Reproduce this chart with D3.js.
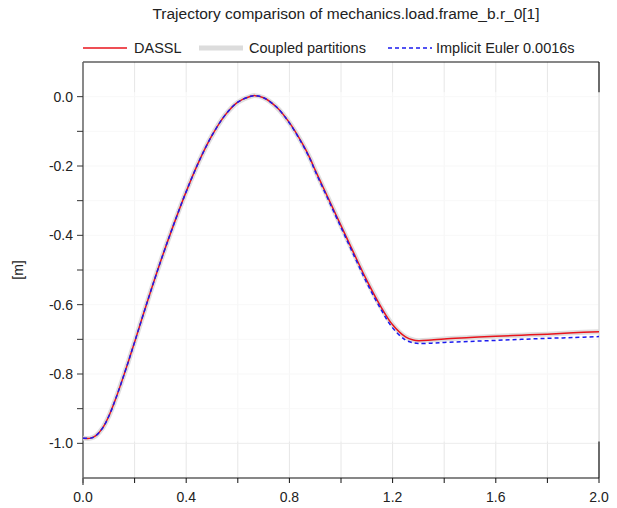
<!DOCTYPE html>
<html>
<head>
<meta charset="utf-8">
<script src="https://cdn.jsdelivr.net/npm/d3@7"></script>
<style>
  body { margin: 0; background: #fff; }
  svg text { font-family: "Liberation Sans", Arial, sans-serif; fill: #222; }
</style>
</head>
<body>
<div id="chart"></div>
<script>
// time axis [s]
var time = [0.00, 0.03, 0.05, 0.075, 0.10, 0.125, 0.15, 0.175, 0.20, 0.25, 0.30, 0.35, 0.40, 0.45,
            0.50, 0.55, 0.60, 0.65, 0.667, 0.70, 0.75, 0.80, 0.85, 0.88, 0.90, 0.95, 1.00, 1.05,
            1.10, 1.15, 1.20, 1.25, 1.28, 1.30, 1.35, 1.40, 1.50, 1.60, 1.70, 1.80, 1.90, 2.00];

// DASSL reference
var dassl = [-0.985, -0.985, -0.978, -0.957, -0.922, -0.875, -0.822, -0.766, -0.708, -0.59, -0.477, -0.372, -0.274, -0.186,
             -0.112, -0.054, -0.016, 0.001, 0.003, -0.003, -0.03, -0.075, -0.135, -0.178, -0.212, -0.292, -0.372, -0.452,
             -0.53, -0.60, -0.658, -0.693, -0.702, -0.704, -0.702, -0.699, -0.695, -0.691, -0.688, -0.685, -0.681, -0.678];

// coupled partitions (lies on top of DASSL)
var coupled = [-0.985, -0.985, -0.978, -0.957, -0.922, -0.875, -0.822, -0.766, -0.708, -0.59, -0.477, -0.372, -0.274, -0.186,
               -0.112, -0.054, -0.016, 0.001, 0.003, -0.003, -0.03, -0.075, -0.135, -0.178, -0.212, -0.292, -0.372, -0.452,
               -0.53, -0.60, -0.658, -0.693, -0.702, -0.704, -0.702, -0.699, -0.695, -0.691, -0.688, -0.685, -0.681, -0.678];

// implicit euler 0.0016s
var euler = [-0.985, -0.985, -0.978, -0.957, -0.922, -0.875, -0.822, -0.766, -0.708, -0.59, -0.477, -0.372, -0.274, -0.186,
             -0.112, -0.054, -0.016, 0.001, 0.003, -0.003, -0.03, -0.076, -0.137, -0.180, -0.215, -0.296, -0.377, -0.458,
             -0.537, -0.607, -0.667, -0.702, -0.710, -0.712, -0.711, -0.709, -0.706, -0.703, -0.700, -0.697, -0.695, -0.692];

var xTicks = [0, 0.2, 0.4, 0.6, 0.8, 1.0, 1.2, 1.4, 1.6, 1.8, 2.0];
var xLabels = [0, 0.4, 0.8, 1.2, 1.6, 2.0];
var yTicks = [0.0, -0.1, -0.2, -0.3, -0.4, -0.5, -0.6, -0.7, -0.8, -0.9, -1.0];
var yLabels = [0.0, -0.2, -0.4, -0.6, -0.8, -1.0];

var width = 617, height = 508;
var margin = {top: 62, right: 18, bottom: 30, left: 83};

var svg = d3.select("#chart").append("svg")
    .attr("width", width)
    .attr("height", height);

var x = d3.scaleLinear().domain([0, 2]).range([margin.left, width - margin.right]);
var y = d3.scaleLinear().domain([-1.1, 0.1]).range([height - margin.bottom, margin.top]);

// grid
svg.append("g").selectAll("line").data(xTicks).enter().append("line")
    .attr("x1", function (d) { return x(d); })
    .attr("x2", function (d) { return x(d); })
    .attr("y1", y(0.1)).attr("y2", y(-1.1))
    .style("stroke", "#e6e6e6");
svg.append("g").selectAll("line").data(yTicks).enter().append("line")
    .attr("x1", x(0)).attr("x2", x(2))
    .attr("y1", function (d) { return y(d); })
    .attr("y2", function (d) { return y(d); })
    .style("stroke", "#ececec");

// data panel (lighter region)
var panelTop = 0.013, panelBottom = -0.995;
svg.append("rect")
    .attr("x", x(0)).attr("y", y(panelTop))
    .attr("width", x(2) - x(0)).attr("height", y(panelBottom) - y(panelTop))
    .style("fill", "rgba(255,255,255,0.6)");
svg.append("line")
    .attr("x1", x(2)).attr("x2", x(2))
    .attr("y1", y(panelTop)).attr("y2", y(panelBottom))
    .style("stroke", "#d4d4d4");

// frame
svg.append("line").attr("x1", x(0)).attr("x2", x(2)).attr("y1", y(0.1)).attr("y2", y(0.1))
    .style("stroke", "#111").style("stroke-width", 1.2);
svg.append("line").attr("x1", x(2)).attr("x2", x(2)).attr("y1", y(0.1)).attr("y2", y(panelTop))
    .style("stroke", "#111").style("stroke-width", 1.2);
svg.append("line").attr("x1", x(2)).attr("x2", x(2)).attr("y1", y(panelBottom)).attr("y2", y(-1.1))
    .style("stroke", "#111").style("stroke-width", 1.2);

// x axis
var xAxis = svg.append("g").attr("transform", "translate(0," + y(-1.1) + ")");
xAxis.append("line").attr("x1", x(0)).attr("x2", x(2)).style("stroke", "#111").style("stroke-width", 1.2);
xAxis.selectAll(".tk").data(xTicks).enter().append("line")
    .attr("x1", function (d) { return x(d); })
    .attr("x2", function (d) { return x(d); })
    .attr("y1", 0).attr("y2", 5)
    .style("stroke", "#111");
xAxis.selectAll("text").data(xLabels).enter().append("text")
    .attr("x", function (d) { return x(d); })
    .attr("y", 24)
    .attr("text-anchor", "middle")
    .style("font-size", "14px")
    .text(function (d) { return d3.format(".1f")(d); });

// y axis
var yAxis = svg.append("g").attr("transform", "translate(" + x(0) + ",0)");
yAxis.append("line").attr("y1", y(0.1)).attr("y2", y(-1.1) + 7).style("stroke", "#666").style("stroke-width", 1.5);
yAxis.selectAll(".tk").data(yTicks).enter().append("line")
    .attr("x1", -6).attr("x2", 0)
    .attr("y1", function (d) { return y(d); })
    .attr("y2", function (d) { return y(d); })
    .style("stroke", "#333");
yAxis.selectAll("text").data(yLabels).enter().append("text")
    .attr("x", -10)
    .attr("y", function (d) { return y(d); })
    .attr("dy", "0.35em")
    .attr("text-anchor", "end")
    .style("font-size", "14px")
    .text(function (d) { return d3.format(".1f")(d).replace("−", "-"); });

svg.append("text")
    .attr("transform", "translate(23," + y(-0.5) + ") rotate(-90)")
    .attr("text-anchor", "middle")
    .style("font-size", "14px")
    .text("[m]");

// title
svg.append("text")
    .attr("x", 346).attr("y", 19)
    .attr("text-anchor", "middle")
    .style("font-size", "15.5px")
    .text("Trajectory comparison of mechanics.load.frame_b.r_0[1]");

// curves
function series(vals) {
    return time.map(function (t, i) { return [t, vals[i]]; });
}
var line = d3.line()
    .x(function (d) { return x(d[0]); })
    .y(function (d) { return y(d[1]); })
    .curve(d3.curveCatmullRom.alpha(0.5));

svg.append("path").datum(series(coupled)).attr("d", line)
    .style("fill", "none").style("stroke", "#dcdcdc").style("stroke-width", 5).style("opacity", 0.9);
svg.append("path").datum(series(dassl)).attr("d", line)
    .style("fill", "none").style("stroke", "#e8141c").style("stroke-width", 1.5);
svg.append("path").datum(series(euler)).attr("d", line)
    .style("fill", "none").style("stroke", "#1a1aee").style("stroke-width", 1.5)
    .style("stroke-dasharray", "4,3");

// legend
var legend = [
    {label: "DASSL", x0: 83, tx: 134, color: "#e8141c", w: 1.5, dash: null},
    {label: "Coupled partitions", x0: 199, tx: 249, color: "#dcdcdc", w: 5, dash: null},
    {label: "Implicit Euler 0.0016s", x0: 388, tx: 436, color: "#1a1aee", w: 1.5, dash: "4,3"}
];
var lg = svg.append("g").attr("transform", "translate(0,48)");
lg.selectAll("line").data(legend).enter().append("line")
    .attr("x1", function (d) { return d.x0; })
    .attr("x2", function (d) { return d.x0 + 44; })
    .attr("y1", 0).attr("y2", 0)
    .style("stroke", function (d) { return d.color; })
    .style("stroke-width", function (d) { return d.w; })
    .style("stroke-dasharray", function (d) { return d.dash; });
lg.selectAll("text").data(legend).enter().append("text")
    .attr("x", function (d) { return d.tx; })
    .attr("y", 0).attr("dy", "0.35em")
    .style("font-size", "14.5px")
    .text(function (d) { return d.label; });
</script>
</body>
</html>
